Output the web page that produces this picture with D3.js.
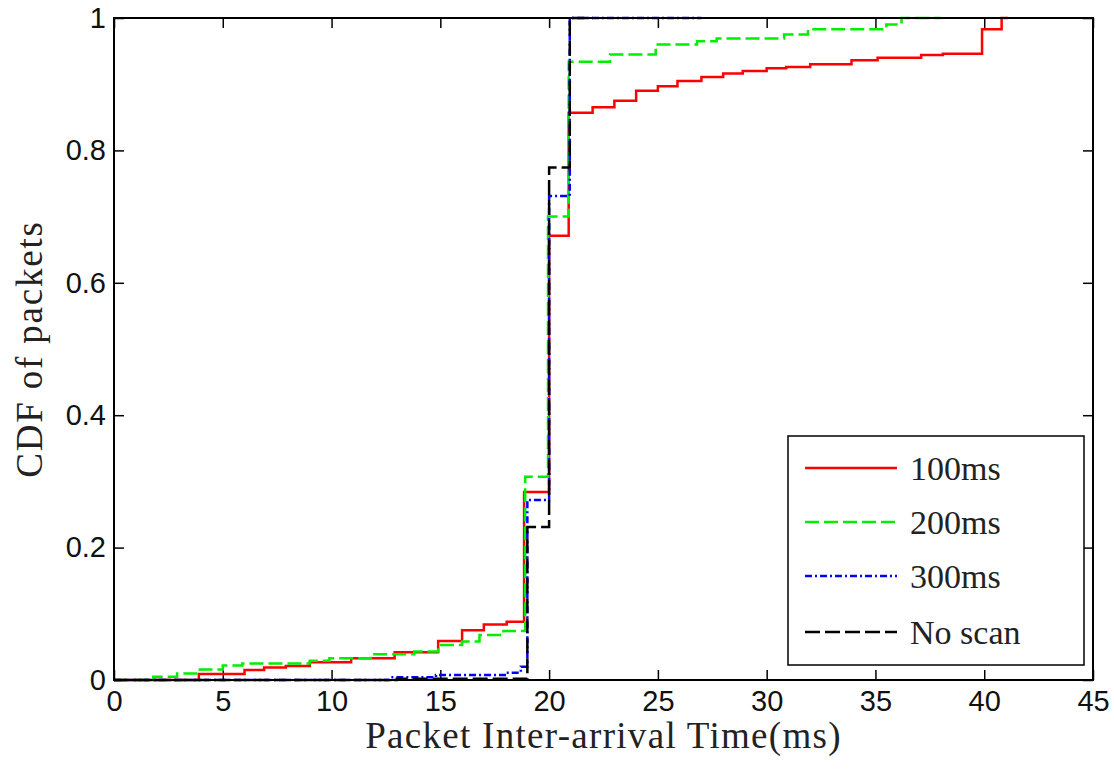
<!DOCTYPE html>
<html>
<head>
<meta charset="utf-8">
<script src="https://cdn.jsdelivr.net/npm/d3@7"></script>
<style>
  body { margin: 0; background: #fff; }
  .tick text { font-family: "Liberation Sans", Arial, sans-serif; }
</style>
</head>
<body>
<div id="chart"></div>
<script>
// step points: from x onward the CDF equals y
var red100X = [0, 3.9, 6.0, 6.9, 7.9, 9.0, 10.9, 12.9, 14.9, 16.0, 17.0, 18.05, 18.85, 20.0, 20.9, 22.0, 23.0, 24.0, 25.0, 25.9, 27.0, 28.0, 28.9, 30.0, 30.9, 32.0, 33.9, 35.1, 37.1, 38.1, 39.9, 40.8, 41.1];
var red100Y = [0, 0.009, 0.015, 0.019, 0.021, 0.027, 0.033, 0.042, 0.059, 0.075, 0.084, 0.088, 0.284, 0.671, 0.857, 0.865, 0.875, 0.890, 0.897, 0.905, 0.911, 0.916, 0.920, 0.924, 0.926, 0.930, 0.936, 0.940, 0.944, 0.946, 0.983, 1.0, 1.0];

var green200X = [0, 1.8, 2.9, 3.95, 5.0, 5.9, 9.0, 9.9, 11.8, 13.8, 14.9, 16.0, 16.8, 17.9, 18.9, 19.95, 20.9, 22.8, 24.9, 26.8, 27.7, 30.8, 31.9, 35.5, 36.2, 38.0];
var green200Y = [0, 0.005, 0.010, 0.016, 0.022, 0.025, 0.029, 0.033, 0.039, 0.043, 0.053, 0.058, 0.068, 0.074, 0.307, 0.700, 0.934, 0.945, 0.960, 0.965, 0.969, 0.975, 0.983, 0.990, 1.0, 1.0];

var blue300X = [0, 12.7, 14.8, 18.05, 18.7, 19.0, 20.0, 20.95, 27.0];
var blue300Y = [0, 0.004, 0.0075, 0.011, 0.02, 0.272, 0.731, 1.0, 1.0];

var blackNoScanX = [0, 13.0, 19.0, 20.0, 20.95, 22.0];
var blackNoScanY = [0, 0.002, 0.231, 0.774, 1.0, 1.0];

var seriesNames = ["100ms", "200ms", "300ms", "No scan"];
var seriesColors = ["#ff0000", "#00ee00", "#0000ff", "#000000"];
var seriesDash = [null, "14,5", "7,3,2,3", "15,5"];

var xTicks = [0, 5, 10, 15, 20, 25, 30, 35, 40, 45];
var yTicks = [0, 0.2, 0.4, 0.6, 0.8, 1];

var svgWidth = 1114;
var svgHeight = 769;
var margin = { top: 18, right: 21, bottom: 89, left: 114 };
var width = svgWidth - margin.left - margin.right;
var height = svgHeight - margin.top - margin.bottom;

var svg = d3.select("#chart")
  .append("svg")
  .attr("width", svgWidth)
  .attr("height", svgHeight);

var chartGroup = svg.append("g")
  .attr("transform", `translate(${margin.left}, ${margin.top})`);

var xScale = d3.scaleLinear().domain([0, 45]).range([0, width]);
var yScale = d3.scaleLinear().domain([0, 1]).range([height, 0]);

var fmtY = d => (d === 0 || d === 1) ? String(d) : d3.format(".1f")(d);

// axes with inward ticks, mirrored on top / right like a matlab box
var bottomAxis = d3.axisBottom(xScale).tickValues(xTicks).tickSizeInner(-10).tickSizeOuter(0).tickPadding(10);
var topAxis = d3.axisTop(xScale).tickValues(xTicks).tickSizeInner(-10).tickSizeOuter(0).tickFormat("");
var leftAxis = d3.axisLeft(yScale).tickValues(yTicks).tickSizeInner(-10).tickSizeOuter(0).tickPadding(8).tickFormat(fmtY);
var rightAxis = d3.axisRight(yScale).tickValues(yTicks).tickSizeInner(-10).tickSizeOuter(0).tickFormat("");

function styleAxis(g) {
  g.select(".domain").remove();
  g.selectAll(".tick line").attr("stroke", "#000").attr("stroke-width", 1.5);
  g.selectAll(".tick text").attr("font-size", "29px").attr("fill", "#111");
}

chartGroup.append("g").attr("transform", `translate(0, ${height})`).call(bottomAxis).call(styleAxis);
chartGroup.append("g").call(topAxis).call(styleAxis);
chartGroup.append("g").call(leftAxis).call(styleAxis);
chartGroup.append("g").attr("transform", `translate(${width}, 0)`).call(rightAxis).call(styleAxis);

// lines
var series = [
  { x: red100X, y: red100Y },
  { x: green200X, y: green200Y },
  { x: blue300X, y: blue300Y },
  { x: blackNoScanX, y: blackNoScanY }
];

var line = d3.line()
  .x(d => xScale(d[0]))
  .y(d => yScale(d[1]))
  .curve(d3.curveStepAfter);

series.forEach(function(s, i) {
  var pts = s.x.map((v, j) => [v, s.y[j]]);
  chartGroup.append("path")
    .datum(pts)
    .attr("fill", "none")
    .attr("stroke", seriesColors[i])
    .attr("stroke-width", 2.5)
    .attr("stroke-dasharray", seriesDash[i])
    .attr("d", line);
});

// box
chartGroup.append("rect")
  .attr("width", width)
  .attr("height", height)
  .attr("fill", "none")
  .attr("stroke", "#000")
  .attr("stroke-width", 2);

// axis labels
chartGroup.append("text")
  .attr("x", width / 2)
  .attr("y", height + 68)
  .attr("text-anchor", "middle")
  .attr("font-family", "Liberation Serif, Times New Roman, serif")
  .attr("font-size", "37px")
  .attr("letter-spacing", "1.3px")
  .attr("fill", "#222")
  .text("Packet Inter-arrival Time(ms)");

chartGroup.append("text")
  .attr("transform", `translate(${-72}, ${height / 2}) rotate(-90)`)
  .attr("text-anchor", "middle")
  .attr("font-family", "Liberation Serif, Times New Roman, serif")
  .attr("font-size", "37px")
  .attr("letter-spacing", "1.8px")
  .attr("fill", "#222")
  .text("CDF of packets");

// legend
var legend = svg.append("g").attr("transform", "translate(788, 436)");
legend.append("rect")
  .attr("width", 296)
  .attr("height", 229)
  .attr("fill", "#fff")
  .attr("stroke", "#000")
  .attr("stroke-width", 1.5);

var rowY = [32, 86, 140, 196];
seriesNames.forEach(function(name, i) {
  legend.append("line")
    .attr("x1", 17).attr("x2", 109)
    .attr("y1", rowY[i]).attr("y2", rowY[i])
    .attr("stroke", seriesColors[i])
    .attr("stroke-width", 2.5)
    .attr("stroke-dasharray", seriesDash[i]);
  legend.append("text")
    .attr("x", 122)
    .attr("y", rowY[i] + 12)
    .attr("font-family", "Liberation Serif, Times New Roman, serif")
    .attr("font-size", "34px")
    .attr("fill", "#222")
    .text(name);
});
</script>
</body>
</html>
